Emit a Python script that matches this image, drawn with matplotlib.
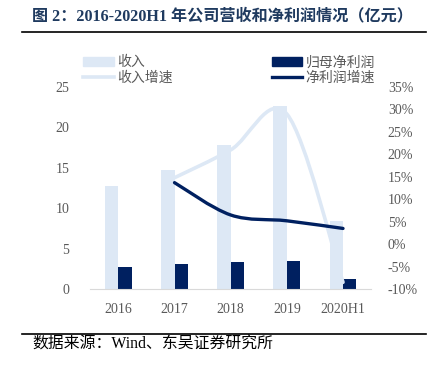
import matplotlib
matplotlib.use("Agg")
import matplotlib.pyplot as plt
from matplotlib.path import Path
from matplotlib.patches import PathPatch, Patch
from matplotlib.lines import Line2D
import numpy as np

plt.rcParams['font.family'] = ['Liberation Serif', 'Noto Sans CJK SC', 'DejaVu Sans']

years = ['2016', '2017', '2018', '2019', '2020H1']
revenue = [12.8, 14.7, 17.8, 22.6, 8.4]
net_profit = [2.7, 3.1, 3.4, 3.5, 1.3]
# growth starts from 2017
rev_growth = [14.8, 21.0, 29.0, -8.5]
np_growth = [13.7, 6.5, 5.2, 3.5]

c_light = '#DDE8F5'
c_dark = '#002060'
c_text = '#595959'


def smooth_path(xs, ys):
    # catmull-rom -> cubic bezier, like excel's smoothed line
    pts = np.column_stack([xs, ys]).astype(float)
    verts = [pts[0]]
    codes = [Path.MOVETO]
    n = len(pts)
    for i in range(n - 1):
        p0 = pts[i - 1] if i > 0 else pts[i]
        p1 = pts[i]
        p2 = pts[i + 1]
        p3 = pts[i + 2] if i + 2 < n else pts[i + 1]
        c1 = p1 + (p2 - p0) / 6.0
        c2 = p2 - (p3 - p1) / 6.0
        verts += [c1, c2, p2]
        codes += [Path.CURVE4] * 3
    return Path(verts, codes)


fig = plt.figure(figsize=(4.32, 3.72), dpi=100)
ax = fig.add_axes([0.209, 0.223, 0.650, 0.543])

x = np.arange(len(years))
w = 0.24
ax.bar(x - w / 2, revenue, w, color=c_light, zorder=2)
ax.bar(x + w / 2, net_profit, w, color=c_dark, zorder=2)
ax.set_xlim(-0.5, len(years) - 0.5)
ax.set_ylim(0, 25)
ax.set_yticks([0, 5, 10, 15, 20, 25])
ax.set_xticks(x)
ax.set_xticklabels(years)
for s in ['top', 'right', 'left']:
    ax.spines[s].set_visible(False)
ax.spines['bottom'].set_color('#D9D9D9')
ax.tick_params(axis='both', length=0, labelsize=10, colors=c_text)
ax.tick_params(axis='y', pad=15)
ax.tick_params(axis='x', pad=10)

ax2 = ax.twinx()
ax2.set_ylim(-10, 35)
ax2.set_yticks(range(-10, 36, 5))
ax2.set_yticklabels(['%d%%' % v for v in range(-10, 36, 5)])
for s in ax2.spines.values():
    s.set_visible(False)
ax2.tick_params(axis='y', length=0, labelsize=10, colors=c_text, pad=12)

ax2.add_patch(PathPatch(smooth_path(x[1:], rev_growth), fill=False,
                        edgecolor=c_light, lw=2.6, capstyle='round'))
ax2.add_patch(PathPatch(smooth_path(x[1:], np_growth), fill=False,
                        edgecolor=c_dark, lw=2.4, capstyle='round'))

handles = [Patch(color=c_light), Line2D([], [], color=c_light, lw=2.6),
           Patch(color=c_dark), Line2D([], [], color=c_dark, lw=2.4)]
labels = ['收入', '收入增速', '归母净利润', '净利润增速']
fig.legend(handles, labels, ncol=2, loc='upper left',
           bbox_to_anchor=(0.177, 0.870), frameon=False, borderpad=0,
           prop={'family': ['Noto Sans CJK SC'], 'size': 10},
           labelcolor=c_text, handlelength=2.2, handleheight=0.55,
           handletextpad=0.25, columnspacing=7.1, labelspacing=0.1)

# title, rules and source
fig.text(0.074, 0.957, '图 2：2016-2020H1 年公司营收和净利润情况（亿元）',
         fontsize=11.6, fontweight='bold', color='#1F3A5F', va='center',
         family=['Liberation Serif', 'Noto Sans CJK SC'])
fig.add_artist(Line2D([0.051, 0.986], [0.914, 0.914], color='black', lw=1.2))
fig.add_artist(Line2D([0.051, 0.986], [0.102, 0.102], color='black', lw=1.2))
fig.text(0.074, 0.073, '数据来源：Wind、东吴证券研究所', fontsize=11.4,
         color='black', va='center',
         family=['Liberation Serif', 'Noto Sans CJK SC'])

fig.savefig('out.png', dpi=100)
